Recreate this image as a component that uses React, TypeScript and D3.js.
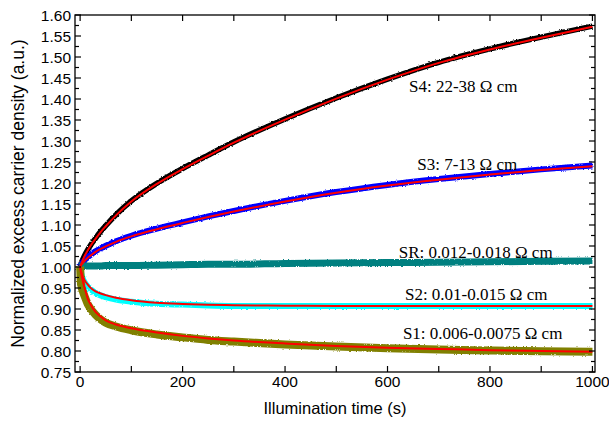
import { useEffect, useRef } from "react";
import * as d3 from "d3";

// time grid (s) shared by every series
const times = [0, 2, 5, 10, 15, 20, 30, 40, 50, 70, 100, 150, 200, 250, 300, 400, 500, 600, 700, 800, 900, 1000];

// measured curves
const s4Data = [1.0, 1.007, 1.016, 1.029, 1.04, 1.05, 1.067, 1.083, 1.097, 1.123, 1.156, 1.198, 1.233, 1.265, 1.296, 1.351, 1.401, 1.446, 1.486, 1.518, 1.546, 1.572];
const s3Data = [1.0, 1.004, 1.009, 1.016, 1.022, 1.027, 1.036, 1.043, 1.049, 1.06, 1.073, 1.09, 1.105, 1.119, 1.132, 1.156, 1.177, 1.194, 1.208, 1.22, 1.231, 1.24];
const srData = [1.0, 1.001, 1.001, 1.001, 1.001, 1.001, 1.001, 1.001, 1.002, 1.002, 1.002, 1.003, 1.004, 1.005, 1.005, 1.007, 1.008, 1.009, 1.01, 1.011, 1.012, 1.013];
const s2Data = [1.0, 0.984, 0.972, 0.96, 0.952, 0.946, 0.937, 0.931, 0.927, 0.921, 0.916, 0.911, 0.909, 0.907, 0.906, 0.906, 0.906, 0.906, 0.906, 0.906, 0.906, 0.906];
const s1Data = [1.0, 0.955, 0.942, 0.925, 0.91, 0.9, 0.885, 0.874, 0.866, 0.857, 0.848, 0.838, 0.831, 0.825, 0.821, 0.814, 0.809, 0.805, 0.802, 0.8, 0.798, 0.797];

// fitted curves (red)
const s4Fit = [1.0, 1.007, 1.016, 1.029, 1.04, 1.05, 1.067, 1.083, 1.097, 1.123, 1.156, 1.198, 1.233, 1.265, 1.296, 1.351, 1.401, 1.446, 1.486, 1.518, 1.546, 1.572];
const s3Fit = [1.0, 1.004, 1.009, 1.016, 1.022, 1.027, 1.036, 1.043, 1.049, 1.06, 1.073, 1.09, 1.105, 1.119, 1.132, 1.156, 1.177, 1.194, 1.208, 1.22, 1.231, 1.24];
const s2Fit = [1.0, 0.99, 0.978, 0.966, 0.958, 0.951, 0.942, 0.937, 0.933, 0.927, 0.921, 0.915, 0.912, 0.91, 0.909, 0.908, 0.907, 0.907, 0.907, 0.907, 0.907, 0.907];
const s1Fit = [1.0, 0.985, 0.968, 0.945, 0.924, 0.912, 0.893, 0.882, 0.873, 0.863, 0.854, 0.844, 0.836, 0.83, 0.825, 0.818, 0.812, 0.808, 0.805, 0.802, 0.8, 0.798];

const seriesNames = ["S4", "S3", "SR", "S2", "S1"];
const seriesColors = ["#000000", "#0000ff", "#008080", "#00ffff", "#808000"];
const seriesWidths = [5.5, 6, 7, 6, 8];

const labelTexts = ["S4: 22-38 Ω cm", "S3: 7-13 Ω cm", "SR: 0.012-0.018 Ω cm", "S2: 0.01-0.015 Ω cm", "S1: 0.006-0.0075 Ω cm"];
const labelT = [642, 658, 622, 634, 630];
const labelV = [1.417, 1.231, 1.022, 0.921, 0.829];

const xTicks = [0, 200, 400, 600, 800, 1000];
const yTicks = [0.75, 0.8, 0.85, 0.9, 0.95, 1.0, 1.05, 1.1, 1.15, 1.2, 1.25, 1.3, 1.35, 1.4, 1.45, 1.5, 1.55, 1.6];

export default function App() {
  const svgRef = useRef<SVGSVGElement>(null);

  useEffect(() => {
    if (!svgRef.current) return;
    const svg = d3.select(svgRef.current);
    svg.selectAll("*").remove();

    const width = 609;
    const height = 427;
    const left = 75, right = 595, top = 15, bottom = 372;

    const x = d3.scaleLinear().domain([-10, 1005]).range([left, right]);
    const y = d3.scaleLinear().domain([0.75, 1.6]).range([bottom, top]);

    const defs = svg.append("defs");
    defs.append("clipPath").attr("id", "plot-clip")
      .append("rect").attr("x", left).attr("y", top)
      .attr("width", right - left).attr("height", bottom - top);

    // fuzzy edges so the measured bands look noisy
    const filt = defs.append("filter").attr("id", "noisy")
      .attr("filterUnits", "userSpaceOnUse")
      .attr("color-interpolation-filters", "sRGB")
      .attr("x", 0).attr("y", 0).attr("width", width).attr("height", height);
    filt.append("feTurbulence").attr("type", "fractalNoise")
      .attr("baseFrequency", "1.0 0.6").attr("numOctaves", 1).attr("seed", 3).attr("result", "n");
    filt.append("feDisplacementMap").attr("in", "SourceGraphic").attr("in2", "n")
      .attr("scale", 3).attr("xChannelSelector", "R").attr("yChannelSelector", "G");

    const line = d3.line<number>()
      .x((_, i) => x(times[i]))
      .y((d) => y(d))
      .curve(d3.curveMonotoneX);

    const plot = svg.append("g").attr("clip-path", "url(#plot-clip)");
    const dataSets = [s4Data, s3Data, srData, s2Data, s1Data];
    // the displacement drifts the bands down a little, pull them back
    const bands = plot.append("g").attr("transform", "translate(0,-0.6)")
      .append("g").attr("filter", "url(#noisy)");
    dataSets.forEach((vals, i) => {
      bands.append("path")
        .datum(vals)
        .attr("class", "band-" + seriesNames[i])
        .attr("d", line)
        .attr("fill", "none")
        .attr("stroke", seriesColors[i])
        .attr("stroke-width", seriesWidths[i])
        .attr("stroke-linejoin", "round");
    });

    [s4Fit, s3Fit, s2Fit, s1Fit].forEach((vals) => {
      plot.append("path")
        .datum(vals)
        .attr("d", line)
        .attr("fill", "none")
        .attr("stroke", "#ff0000")
        .attr("stroke-width", 2);
    });

    // frame
    svg.append("rect")
      .attr("x", left).attr("y", top)
      .attr("width", right - left).attr("height", bottom - top)
      .attr("fill", "none").attr("stroke", "#000").attr("stroke-width", 1.3);

    // x ticks (inward, top and bottom)
    const xAll = d3.range(0, 1001, 100);
    const tk = svg.append("g").attr("stroke", "#000").attr("stroke-width", 1.2);
    xAll.forEach((t) => {
      tk.append("line").attr("x1", x(t)).attr("x2", x(t)).attr("y1", bottom).attr("y2", bottom - 6);
      tk.append("line").attr("x1", x(t)).attr("x2", x(t)).attr("y1", top).attr("y2", top + 6);
    });
    // y ticks (inward, left and right)
    const yAll = d3.range(0, 35).map((i) => 0.75 + i * 0.025);
    yAll.forEach((v, i) => {
      const len = i % 2 === 0 ? 6 : 4;
      tk.append("line").attr("x1", left).attr("x2", left + len).attr("y1", y(v)).attr("y2", y(v));
      tk.append("line").attr("x1", right).attr("x2", right - len).attr("y1", y(v)).attr("y2", y(v));
    });

    const sans = "'Liberation Sans', Arial, sans-serif";
    svg.append("g").selectAll("text").data(xTicks).enter().append("text")
      .attr("x", (d) => x(d)).attr("y", 387)
      .attr("text-anchor", "middle")
      .style("font-family", sans).style("font-size", "15.5px")
      .text((d) => String(d));

    svg.append("g").selectAll("text").data(yTicks).enter().append("text")
      .attr("x", 71).attr("y", (d) => y(d) + 5.5)
      .attr("text-anchor", "end")
      .style("font-family", sans).style("font-size", "15.5px")
      .text((d) => d.toFixed(2));

    svg.append("text")
      .attr("x", (left + right) / 2).attr("y", 414)
      .attr("text-anchor", "middle")
      .style("font-family", sans).style("font-size", "16.5px")
      .text("Illumination time (s)");

    svg.append("text")
      .attr("transform", `translate(24, ${(top + bottom) / 2}) rotate(-90)`)
      .attr("text-anchor", "middle")
      .style("font-family", sans).style("font-size", "17.5px")
      .text("Normalized excess carrier density (a.u.)");

    // sample labels
    labelTexts.forEach((txt, i) => {
      svg.append("text")
        .attr("x", x(labelT[i])).attr("y", y(labelV[i]))
        .style("font-family", "'Liberation Serif', 'Times New Roman', serif")
        .style("font-size", "17px")
        .text(txt);
    });
  }, []);

  return (
    <svg
      ref={svgRef}
      width={609}
      height={427}
      style={{ position: "absolute", left: 0, top: 0, background: "#fff" }}
    />
  );
}
